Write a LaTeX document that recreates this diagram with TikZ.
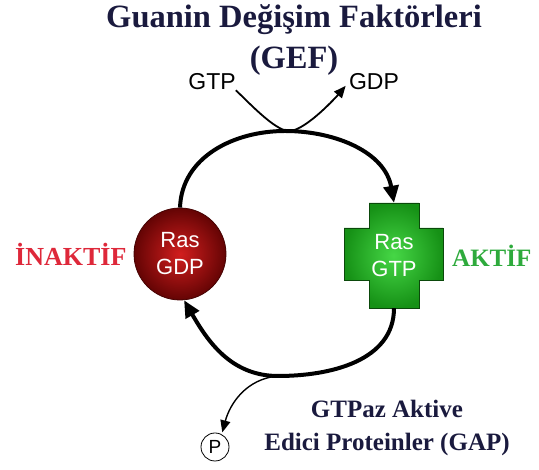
\documentclass[tikz,border=0pt]{standalone}
\usepackage{fontspec}
\setmainfont{Liberation Serif}
\newfontfamily\arial{Liberation Sans}
\usetikzlibrary{arrows.meta,positioning}

\definecolor{TitleNavy}{RGB}{26,26,62}
\definecolor{InactRed}{RGB}{222,40,58}
\definecolor{ActGreen}{RGB}{46,170,60}
\definecolor{GdpDark}{RGB}{100,4,4}
\definecolor{GdpLight}{RGB}{210,30,30}
\definecolor{GtpDark}{RGB}{22,145,22}
\definecolor{GtpLight}{RGB}{70,215,70}

\tikzstyle{heading} = [font=\bfseries\fontsize{32.5}{41}\selectfont, TitleNavy, align=center, inner sep=0]
\tikzstyle{state} = [font=\bfseries\fontsize{26}{28}\selectfont, inner sep=0]
\tikzstyle{ras} = [font=\arial\fontsize{22}{27}\selectfont, white, align=center, inner sep=0]
\tikzstyle{nucleotide} = [font=\arial\fontsize{23}{24}\selectfont, inner sep=0]
\tikzstyle{cycle} = [line width=4pt, -{Triangle[length=17pt,width=15pt]}]
\tikzstyle{swap} = [line width=1.8pt, -{Triangle[length=12pt,width=10pt]}]

\begin{document}
\begin{tikzpicture}[x=1pt, y=1pt]
    \useasboundingbox (0,0) rectangle (539,470);

    % Title
    \node[heading] (gef) at (294,430) {Guanin Değişim Faktörleri\\(GEF)};

    % Nucleotides
    \node[nucleotide] (gtp) at (212,388) {GTP};
    \node[nucleotide] (gdp) at (374,388) {GDP};

    % Ras-GDP
    \node[ras, circle, minimum size=92pt, inner color=GdpLight, outer color=GdpDark,
          draw=GdpDark!70!black, line width=0.8pt] (inactive) at (180,216) {Ras\\GDP};
    \node[state, InactRed, left=7pt of inactive] (inaktif) {İNAKTİF};

    % Ras-GTP cross
    \shadedraw[inner color=GtpLight, outer color=GtpDark, draw=GtpDark!50!black, line width=0.8pt]
        (369,267) -- (419,267) -- (419,242) -- (443,242) -- (443,190) -- (419,190)
        -- (419,162) -- (369,162) -- (369,190) -- (344,190) -- (344,242) -- (369,242) -- cycle;
    \node[ras, minimum width=50pt, minimum height=105pt] (active) at (394,214.5) {Ras\\GTP};
    \node[state, ActGreen, anchor=west, font=\bfseries\fontsize{25}{28}\selectfont] (aktif) at (452,214) {AKTİF};

    % Cycle
    \coordinate (gefpt) at (285,339);
    \coordinate (gappt) at (278,94);
    \draw[cycle] (inactive.north) to[out=88, in=180] (gefpt) to[out=0, in=100] (active.north);
    \draw[cycle] (active.south) to[out=-90, in=0] (gappt) to[out=180, in=-60] (inactive.-85);

    % GTP in, GDP out
    \coordinate (swappt) at (289,339);
    \draw[swap, shorten >=5pt] (gtp.south east) to[out=-42, in=180, looseness=0.55] (swappt)
        to[out=0, in=-130, looseness=0.55] (gdp.west);

    % Phosphate
    \node[nucleotide, circle, draw, line width=0.8pt, minimum size=28pt,
          font=\arial\fontsize{19}{19}\selectfont] (pi) at (215,23) {P};
    \draw[swap, line width=1.4pt, shorten >=2pt] (gappt) to[out=185, in=75] (pi.62);

    % GAP
    \node[heading, font=\bfseries\fontsize{25}{33}\selectfont] (gap) at (387,42)
        {GTPaz Aktive\\Edici Proteinler (GAP)};
\end{tikzpicture}
\end{document}
